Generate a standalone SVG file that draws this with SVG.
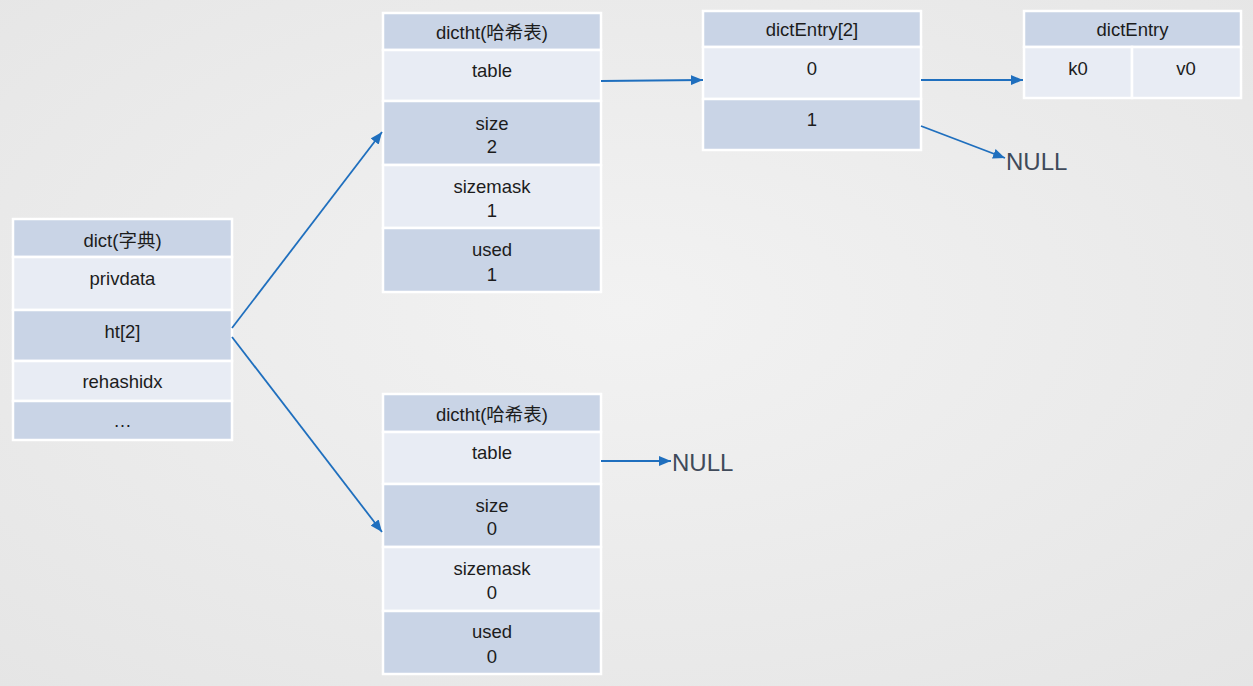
<svg xmlns="http://www.w3.org/2000/svg" width="1253" height="686" viewBox="0 0 1253 686">
<defs>
<radialGradient id="bg" cx="50%" cy="45%" r="75%">
<stop offset="0" stop-color="#f2f2f2"/>
<stop offset="1" stop-color="#e5e5e5"/>
</radialGradient>
<marker id="arr" markerUnits="userSpaceOnUse" markerWidth="13" markerHeight="10" refX="12" refY="5" orient="auto">
<path d="M0,0 L12,5 L0,10 z" fill="#1f6fbe"/>
</marker>
<style>
.d{fill:#c9d4e6;stroke:#fff;stroke-width:2.5}
.l{fill:#e8ecf4;stroke:#fff;stroke-width:2.5}
.t{font-family:"Liberation Sans","Noto Sans CJK SC",sans-serif;font-size:18.5px;fill:#1c1c1c;text-anchor:middle}
.n{font-family:"Liberation Sans",sans-serif;font-size:24px;fill:#404a5a}
.c{fill:none;stroke:#1f6fbe;stroke-width:1.8;marker-end:url(#arr)}
</style>
</defs>
<rect width="1253" height="686" fill="url(#bg)"/>

<g id="dict">
<rect class="d" x="13" y="219" width="219" height="38"/>
<rect class="l" x="13" y="257" width="219" height="53"/>
<rect class="d" x="13" y="310" width="219" height="51"/>
<rect class="l" x="13" y="361" width="219" height="40"/>
<rect class="d" x="13" y="401" width="219" height="39"/>
<text class="t" x="122.5" y="247">dict(字典)</text>
<text class="t" x="122.5" y="285">privdata</text>
<text class="t" x="122.5" y="338">ht[2]</text>
<text class="t" x="122.5" y="388">rehashidx</text>
<text class="t" x="122.5" y="427">…</text>
</g>

<g id="dictht0">
<rect class="d" x="383" y="13" width="218" height="37"/>
<rect class="l" x="383" y="50" width="218" height="51"/>
<rect class="d" x="383" y="101" width="218" height="64"/>
<rect class="l" x="383" y="165" width="218" height="63"/>
<rect class="d" x="383" y="228" width="218" height="64"/>
<text class="t" x="492" y="39">dictht(哈希表)</text>
<text class="t" x="492" y="77">table</text>
<text class="t" x="492" y="130">size</text>
<text class="t" x="492" y="153">2</text>
<text class="t" x="492" y="193">sizemask</text>
<text class="t" x="492" y="217">1</text>
<text class="t" x="492" y="256">used</text>
<text class="t" x="492" y="281">1</text>
</g>

<g id="dictht1">
<rect class="d" x="383" y="394" width="218" height="38"/>
<rect class="l" x="383" y="432" width="218" height="52"/>
<rect class="d" x="383" y="484" width="218" height="63"/>
<rect class="l" x="383" y="547" width="218" height="64"/>
<rect class="d" x="383" y="611" width="218" height="63"/>
<text class="t" x="492" y="421">dictht(哈希表)</text>
<text class="t" x="492" y="459">table</text>
<text class="t" x="492" y="512">size</text>
<text class="t" x="492" y="535">0</text>
<text class="t" x="492" y="575">sizemask</text>
<text class="t" x="492" y="599">0</text>
<text class="t" x="492" y="638">used</text>
<text class="t" x="492" y="663">0</text>
</g>

<g id="dictEntryArray">
<rect class="d" x="703" y="11" width="218" height="36"/>
<rect class="l" x="703" y="47" width="218" height="52"/>
<rect class="d" x="703" y="99" width="218" height="51"/>
<text class="t" x="812" y="36">dictEntry[2]</text>
<text class="t" x="812" y="75">0</text>
<text class="t" x="812" y="126">1</text>
</g>

<g id="dictEntry">
<rect class="d" x="1024" y="11" width="217" height="36"/>
<rect class="l" x="1024" y="47" width="108" height="51"/>
<rect class="l" x="1132" y="47" width="109" height="51"/>
<text class="t" x="1132.5" y="36">dictEntry</text>
<text class="t" x="1078" y="75">k0</text>
<text class="t" x="1186" y="75">v0</text>
</g>

<g id="null1">
<text class="n" x="1006" y="170">NULL</text>
</g>
<g id="null2">
<text class="n" x="672" y="471">NULL</text>
</g>

<g id="connectors">
<path class="c" d="M232,328 L382,132"/>
<path class="c" d="M232,337 L382,532"/>
<path class="c" d="M601,81 L703,80"/>
<path class="c" d="M921,80 L1023,80"/>
<path class="c" d="M921,126 L1005,158"/>
<path class="c" d="M601,461 L671,461"/>
</g>
</svg>
